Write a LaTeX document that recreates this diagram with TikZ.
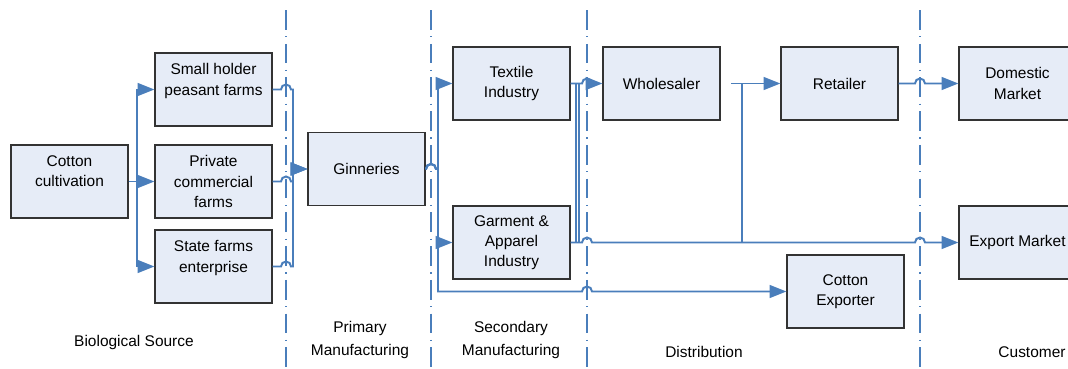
\documentclass[tikz,border=0pt]{standalone}
\usepackage{fontspec}
\setmainfont{Liberation Sans}
\usetikzlibrary{arrows.meta}
\definecolor{flowblue}{RGB}{74,126,187}
\definecolor{boxfill}{RGB}{230,236,247}

\begin{document}
\begin{tikzpicture}[x=0.025cm, y=-0.025cm,
  stage/.style={draw=black!80, fill=boxfill, line width=0.8pt, minimum width=2.925cm, minimum height=1.825cm, inner sep=1pt, align=center, font=\fontsize{11}{14.4}\selectfont},
  link/.style={flowblue, line width=1.4pt},
  flow/.style={link, -{Triangle[length=0.42cm,width=0.32cm]}},
  hop/.style={insert path={arc[start angle=180,end angle=0,radius=0.125cm]}},
  stagesep/.style={flowblue, line width=1pt, dash pattern=on 14pt off 4.5pt on 1pt off 4.5pt},
  stagename/.style={align=center, font=\fontsize{11}{17}\selectfont}]
\useasboundingbox (0,0) rectangle (1068,369);

% stage borders
\path[draw,stagesep] (286,10) -- (286,369);
\path[draw,stagesep] (431,10) -- (431,369);
\path[draw,stagesep] (587,10) -- (587,369);
\path[draw,stagesep] (920,10) -- (920,369);

\node[stage] (cot) at (69.5,181.5) {Cotton\\cultivation\\~};
\node[stage] (small) at (213.5,89.5) {Small holder\\peasant farms\\~};
\node[stage] (priv) at (213.5,181.5) {Private\\commercial\\farms};
\node[stage] (state) at (213.5,266.5) {State farms\\enterprise\\~};
\node[stage] (gin) at (366.5,169) {Ginneries};
\node[stage] (tex) at (511.5,83.5) {Textile\\Industry};
\node[stage] (gar) at (511.5,242.5) {Garment \&\\Apparel\\Industry};
\node[stage] (whole) at (661.5,83.5) {Wholesaler};
\node[stage] (ret) at (839.5,83.5) {Retailer};
\node[stage] (cexp) at (845.5,291.5) {Cotton\\Exporter};
\node[stage] (dom) at (1017.5,83.5) {Domestic\\Market};
\node[stage] (expm) at (1017.5,242.5) {Export Market};

\node[stagename] (bio) at (134,342) {Biological Source};
\node[stagename] (prim) at (360,340) {Primary\\Manufacturing};
\node[stagename] (sec) at (511,340) {Secondary\\Manufacturing};
\node[stagename] (dist) at (704,352) {Distribution};
\node[stagename] (cust) at (1032,352) {Customer};

% junction columns
\coordinate (t0) at (137,0);
\coordinate (h1) at (281,0);
\coordinate (t1) at (293,0);
\coordinate (h2) at (426,0);
\coordinate (t2) at (438,0);
\coordinate (v1) at (576,0);
\coordinate (v2) at (579,0);
\coordinate (h3) at (582,0);
\coordinate (v3) at (742,0);
\coordinate (h4) at (915,0);
\coordinate (wout) at (731,83.5);

\path[draw,flow] (cot.east) -- (cot.east -| t0) |- (small.west);
\path[draw,flow] (cot.east) -- (priv.west);
\path[draw,flow] (cot.east) -- (cot.east -| t0) |- (state.west);

\path[draw,flow] (small.east) -- (small.east -| h1) [hop] -- (small.east -| t1) |- (gin.west);
\path[draw,flow] (priv.east) -- (priv.east -| h1) [hop] -- (priv.east -| t1) |- (gin.west);
\path[draw,flow] (state.east) -- (state.east -| h1) [hop] -- (state.east -| t1) |- (gin.west);

\path[draw,flow] (gin.east) -- (gin.east -| h2) [hop] -- (gin.east -| t2) |- (tex.west);
\path[draw,flow] (gin.east) -- (gin.east -| h2) [hop] -- (gin.east -| t2) |- (gar.west);
\path[draw,flow] (gin.east) -- (gin.east -| h2) [hop] -- (gin.east -| t2) |- (cexp.west -| h3) [hop] -- (cexp.west);

\path[draw,flow] (tex.east) -- (tex.east -| h3) [hop] -- (whole.west);
\path[draw,link] (gar.east) -- (gar.east -| v1) -- (tex.east -| v1);
\path[draw,link] (tex.east) -- (tex.east -| v2) -- (gar.east -| v2);
\path[draw,flow] (gar.east) -- (gar.east -| h3) [hop] -- (gar.east -| h4) [hop] -- (expm.west);

\path[draw,flow] (wout) -- (ret.west);
\path[draw,link] (wout) -- (wout -| v3) -- (gar.east -| v3);
\path[draw,flow] (ret.east) -- (ret.east -| h4) [hop] -- (dom.west);
\end{tikzpicture}
\end{document}
